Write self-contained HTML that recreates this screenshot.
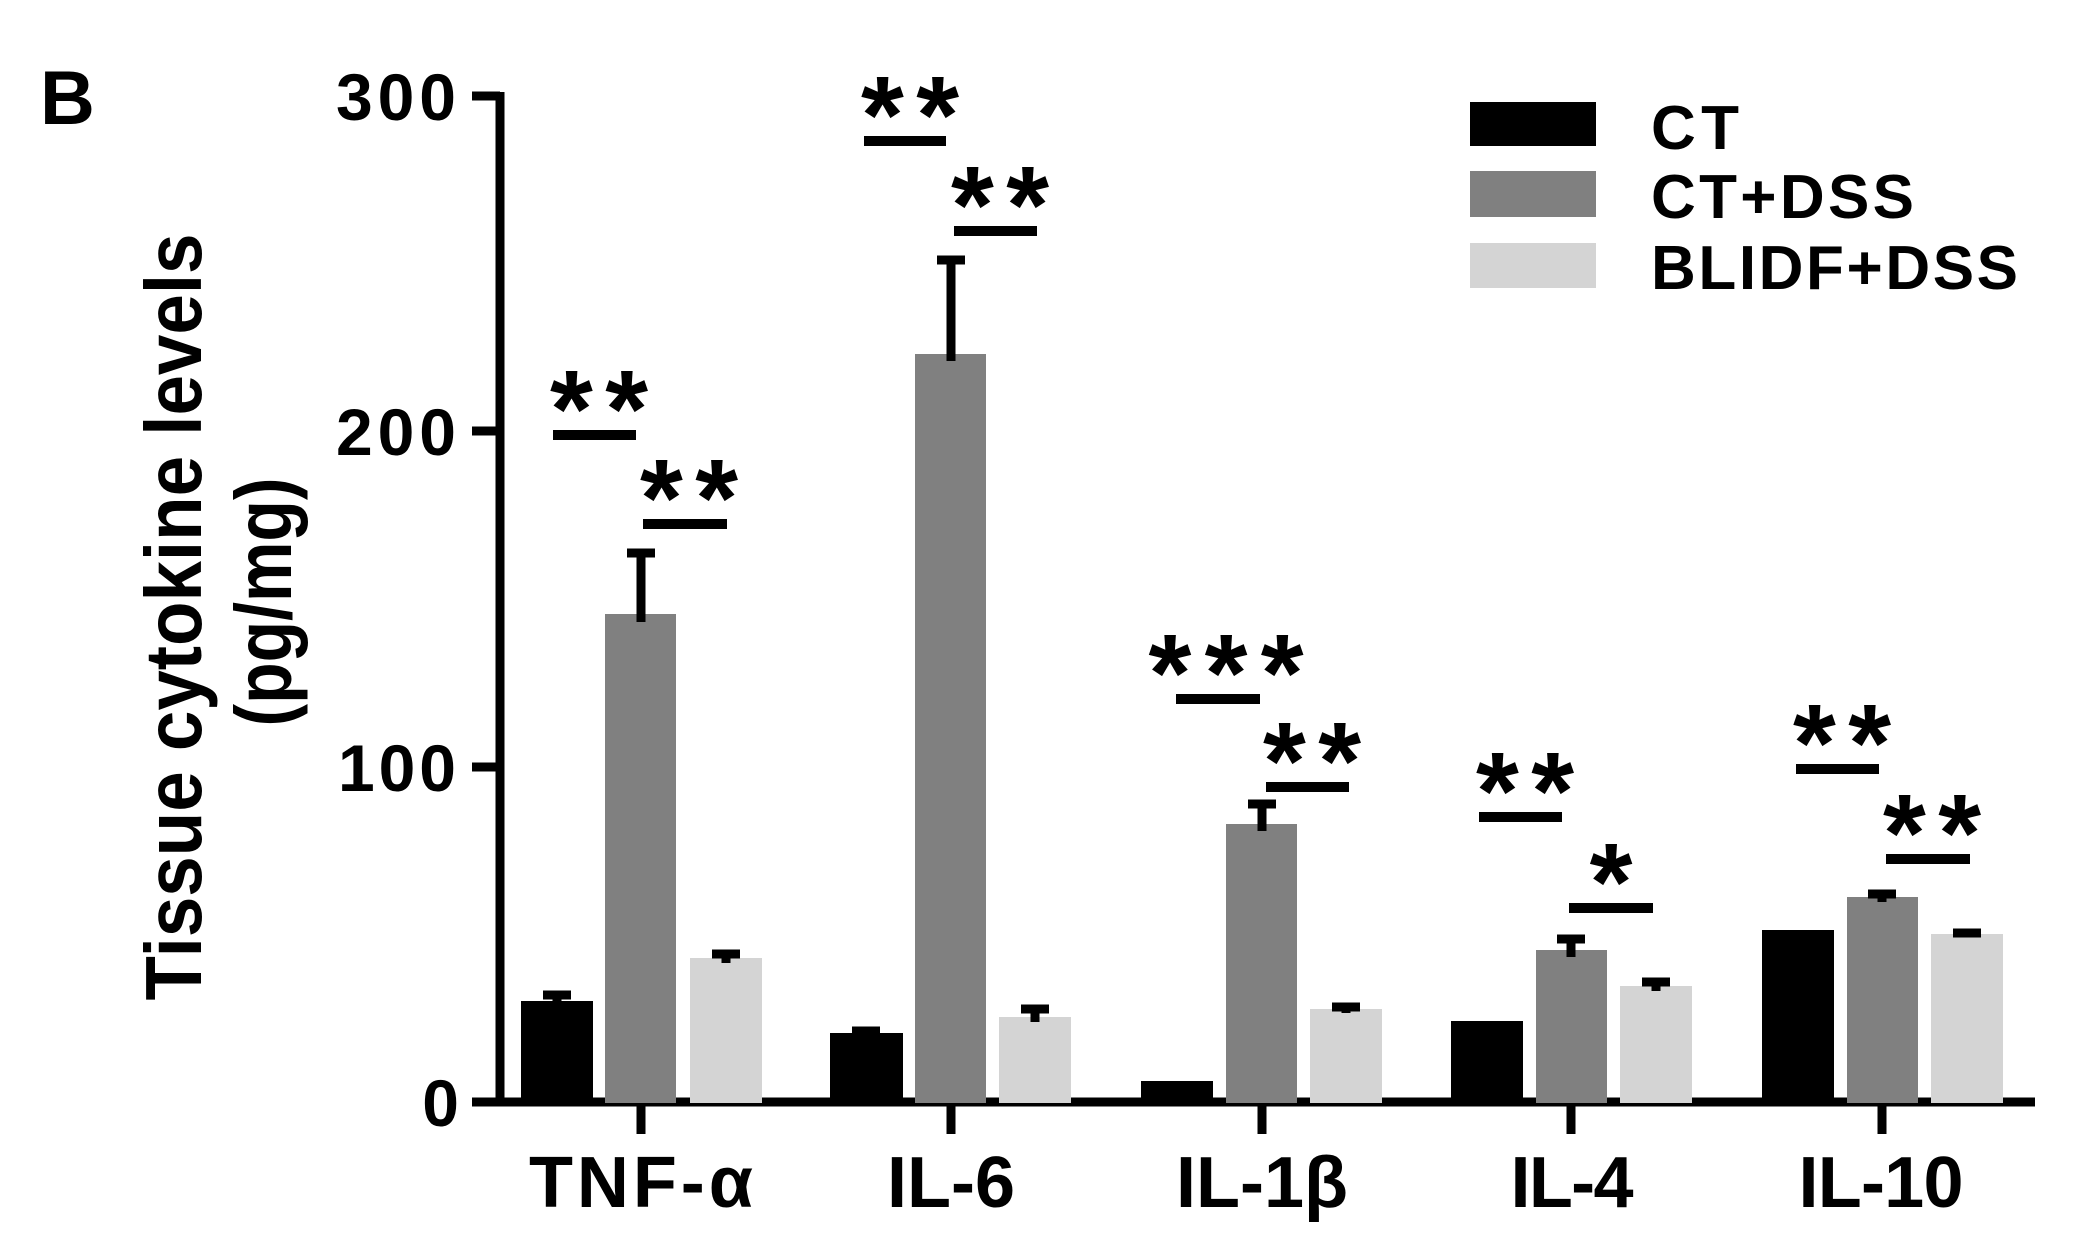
<!DOCTYPE html>
<html><head><meta charset="utf-8"><style>
html,body{margin:0;padding:0;background:#fff;}
svg{display:block;}
text{font-family:"Liberation Sans",Arial,sans-serif;}
</style></head><body>
<svg width="2099" height="1251" viewBox="0 0 2099 1251" xmlns="http://www.w3.org/2000/svg">
<rect width="2099" height="1251" fill="#fff"/>
<text x="40" y="124" font-size="76" font-weight="bold">B</text>
<!-- axes -->
<line x1="500" y1="92" x2="500" y2="1106" stroke="#000" stroke-width="9"/>
<line x1="496" y1="1102" x2="2035" y2="1102" stroke="#000" stroke-width="9"/>
<g stroke="#000" stroke-width="9">
<line x1="472" y1="96" x2="500" y2="96"/>
<line x1="472" y1="431" x2="500" y2="431"/>
<line x1="472" y1="767" x2="500" y2="767"/>
<line x1="472" y1="1102" x2="500" y2="1102"/>
<line x1="641" y1="1102" x2="641" y2="1134"/>
<line x1="951" y1="1102" x2="951" y2="1134"/>
<line x1="1262" y1="1102" x2="1262" y2="1134"/>
<line x1="1571" y1="1102" x2="1571" y2="1134"/>
<line x1="1882" y1="1102" x2="1882" y2="1134"/>
</g>
<g font-size="66" font-weight="bold" text-anchor="end">
<text x="456" y="120" textLength="120" lengthAdjust="spacing">300</text>
<text x="456" y="455" textLength="120" lengthAdjust="spacing">200</text>
<text x="456" y="791" textLength="118" lengthAdjust="spacing">100</text>
<text x="459" y="1126">0</text>
</g>
<g font-size="72" font-weight="bold" text-anchor="middle">
<text x="641" y="1207" textLength="224" lengthAdjust="spacing">TNF-α</text>
<text x="951" y="1207" textLength="128" lengthAdjust="spacing">IL-6</text>
<text x="1262" y="1207" textLength="172" lengthAdjust="spacing">IL-1β</text>
<text x="1572" y="1207" textLength="123" lengthAdjust="spacing">IL-4</text>
<text x="1881" y="1207" textLength="165" lengthAdjust="spacing">IL-10</text>
</g>
<g font-size="80" font-weight="bold" text-anchor="middle">
<text transform="translate(201,617) rotate(-90)" textLength="767" lengthAdjust="spacingAndGlyphs">Tissue cytokine levels</text>
<text transform="translate(291,602) rotate(-90)" textLength="249" lengthAdjust="spacingAndGlyphs">(pg/mg)</text>
</g>
<!-- bars -->
<g transform="translate(0,-3)">
<rect x="521" y="1004" width="72" height="102" fill="#000"/>
<rect x="605" y="617" width="71" height="489" fill="#808080"/>
<rect x="690" y="961" width="72" height="145" fill="#d4d4d4"/>
<rect x="830" y="1036" width="73" height="70" fill="#000"/>
<rect x="915" y="357" width="71" height="749" fill="#808080"/>
<rect x="999" y="1020" width="72" height="86" fill="#d4d4d4"/>
<rect x="1141" y="1084" width="72" height="22" fill="#000"/>
<rect x="1226" y="827" width="71" height="279" fill="#808080"/>
<rect x="1310" y="1012" width="72" height="94" fill="#d4d4d4"/>
<rect x="1451" y="1024" width="72" height="82" fill="#000"/>
<rect x="1536" y="953" width="71" height="153" fill="#808080"/>
<rect x="1620" y="989" width="72" height="117" fill="#d4d4d4"/>
<rect x="1762" y="933" width="72" height="173" fill="#000"/>
<rect x="1847" y="900" width="71" height="206" fill="#808080"/>
<rect x="1931" y="937" width="72" height="169" fill="#d4d4d4"/>
<g stroke="#000" stroke-width="9" fill="none">
<path d="M557 1005V994M543 998H571"/>
<path d="M641 625V552M627 556H655"/>
<path d="M726 966V953M712 957H740"/>
<path d="M866 1037V1031M852 1034H880"/>
<path d="M951 364V259M937 263H965"/>
<path d="M1035 1025V1008M1021 1012H1049"/>
<path d="M1262 834V803M1248 807H1276"/>
<path d="M1346 1016V1006M1332 1010H1360"/>
<path d="M1571 960V938M1557 942H1585"/>
<path d="M1656 994V981M1642 985H1670"/>
<path d="M1882 905V893M1868 897H1896"/>
<path d="M1967 939V933M1953 936H1981"/>
</g>
</g>
<!-- significance lines -->
<g stroke="#000" stroke-width="10">
<line x1="553" y1="435" x2="636" y2="435"/>
<line x1="643" y1="524" x2="727" y2="524"/>
<line x1="864" y1="141" x2="946" y2="141"/>
<line x1="954" y1="231" x2="1037" y2="231"/>
<line x1="1176" y1="699" x2="1260" y2="699"/>
<line x1="1266" y1="787" x2="1349" y2="787"/>
<line x1="1479" y1="817" x2="1562" y2="817"/>
<line x1="1569" y1="908" x2="1653" y2="908"/>
<line x1="1796" y1="769" x2="1879" y2="769"/>
<line x1="1886" y1="859" x2="1970" y2="859"/>
</g>
<g font-size="110" font-weight="bold" text-anchor="middle">
<text x="599" y="447" textLength="98" lengthAdjust="spacing">**</text>
<text x="689" y="536" textLength="98" lengthAdjust="spacing">**</text>
<text x="910" y="153" textLength="98" lengthAdjust="spacing">**</text>
<text x="1000" y="243" textLength="98" lengthAdjust="spacing">**</text>
<text x="1226" y="711" textLength="155" lengthAdjust="spacing">***</text>
<text x="1312" y="799" textLength="98" lengthAdjust="spacing">**</text>
<text x="1525" y="829" textLength="98" lengthAdjust="spacing">**</text>
<text x="1611" y="920">*</text>
<text x="1842" y="781" textLength="98" lengthAdjust="spacing">**</text>
<text x="1932" y="871" textLength="98" lengthAdjust="spacing">**</text>
</g>
<!-- legend -->
<rect x="1470" y="102" width="126" height="44" fill="#000"/>
<rect x="1470" y="171" width="126" height="46" fill="#808080"/>
<rect x="1470" y="243" width="126" height="45" fill="#d4d4d4"/>
<g font-size="62" font-weight="bold">
<text x="1651" y="149" textLength="88" lengthAdjust="spacing">CT</text>
<text x="1651" y="218" textLength="263" lengthAdjust="spacing">CT+DSS</text>
<text x="1651" y="289" textLength="367" lengthAdjust="spacing">BLIDF+DSS</text>
</g>
</svg>
</body></html>
